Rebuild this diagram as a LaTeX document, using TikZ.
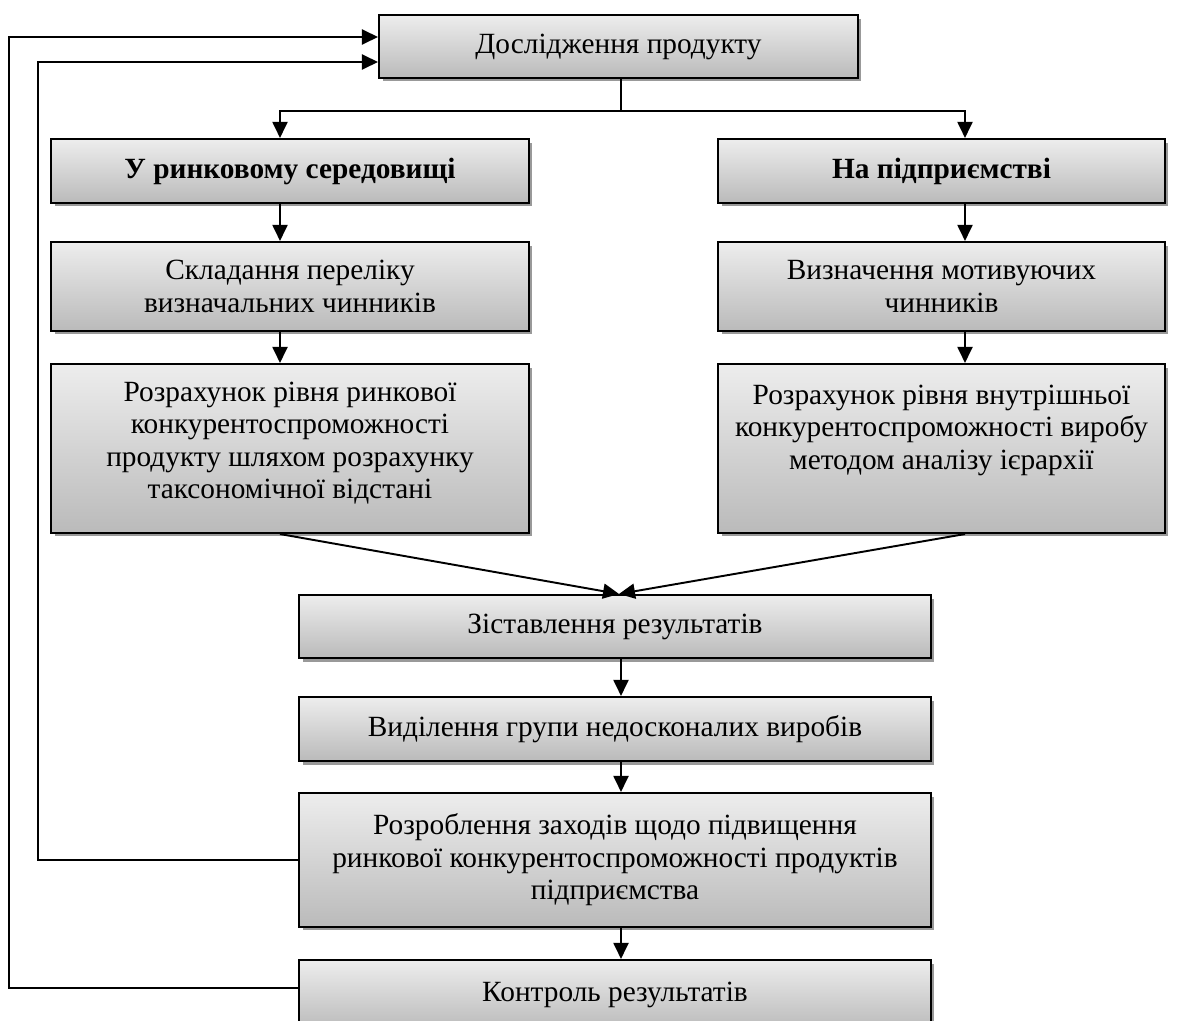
\documentclass[tikz,border=0pt]{standalone}
\usepackage{fontspec}
\setmainfont{Liberation Serif}
\usetikzlibrary{arrows.meta,shadows}

\begin{document}
\begin{tikzpicture}[x=0.02cm,y=-0.02cm,
    stage/.style={draw,line width=1.2pt,top color=black!7,bottom color=black!27,
      drop shadow={shadow xshift=0.07cm,shadow yshift=-0.07cm,fill=black!40,opacity=1},
      align=center,inner sep=2pt,font=\fontsize{16.7}{18.5}\selectfont},
    heading/.style={stage,font=\fontsize{16.7}{18.5}\selectfont\bfseries},
    lcol/.style={minimum width=9.56cm},
    rcol/.style={minimum width=8.94cm},
    mcol/.style={minimum width=12.64cm},
    link/.style={line width=1.1pt,-{Triangle[length=0.32cm,width=0.3cm]}},
    wire/.style={line width=1.1pt}]
  \useasboundingbox (0,0) rectangle (1187,1021);

  \node[stage,minimum width=9.58cm,minimum height=1.26cm] (prod) at (618.5,46.5) {Дослідження продукту};
  \node[heading,lcol,minimum height=1.28cm] (market) at (290,171) {У ринковому середовищі};
  \node[heading,rcol,minimum height=1.28cm] (firm) at (941.5,171) {На підприємстві};
  \node[stage,lcol,minimum height=1.78cm] (factors) at (290,286.5) {Складання переліку\\визначальних чинників};
  \node[stage,rcol,minimum height=1.78cm] (motives) at (941.5,286.5) {Визначення мотивуючих\\чинників};
  \node[stage,lcol,text depth=0.33cm,minimum height=3.38cm] (taxon) at (290,448.5)
    {Розрахунок рівня ринкової\\конкурентоспроможності\\продукту шляхом розрахунку\\таксономічної відстані};
  \node[stage,rcol,text depth=0.86cm,minimum height=3.38cm] (hier) at (941.5,448.5)
    {Розрахунок рівня внутрішньої\\конкурентоспроможності виробу\\методом аналізу ієрархії};
  \node[stage,mcol,minimum height=1.26cm] (compare) at (615,626.5) {Зіставлення результатів};
  \node[stage,mcol,minimum height=1.28cm] (select) at (615,729) {Виділення групи недосконалих виробів};
  \node[stage,mcol,minimum height=2.68cm] (measures) at (615,860)
    {Розроблення заходів щодо підвищення\\ринкової конкурентоспроможності продуктів\\підприємства};
  \node[stage,mcol,minimum height=1.4cm] (control) at (615,995) {Контроль результатів};

  \coordinate (split) at (621,111);
  \coordinate (outer) at (9,37);
  \coordinate (inner) at (38,62);

  \draw[wire] (prod.south -| split) -- (split);
  \draw[link] (split) -| ([xshift=-0.2cm]market.north);
  \draw[link] (split) -| ([xshift=0.47cm]firm.north);
  \draw[link] ([xshift=-0.2cm]market.south) -- ([xshift=-0.2cm]factors.north);
  \draw[link] ([xshift=-0.2cm]factors.south) -- ([xshift=-0.2cm]taxon.north);
  \draw[link] ([xshift=0.47cm]firm.south) -- ([xshift=0.47cm]motives.north);
  \draw[link] ([xshift=0.47cm]motives.south) -- ([xshift=0.47cm]hier.north);
  \draw[link] ([xshift=-0.2cm]taxon.south) -- ([xshift=0.08cm]compare.north);
  \draw[link] ([xshift=0.47cm]hier.south) -- ([xshift=0.08cm]compare.north);
  \draw[link] ([xshift=0.12cm]compare.south) -- ([xshift=0.12cm]select.north);
  \draw[link] ([xshift=0.12cm]select.south) -- ([xshift=0.12cm]measures.north);
  \draw[link] ([xshift=0.12cm]measures.south) -- ([xshift=0.12cm]control.north);
  \draw[link] ([yshift=0.14cm]control.west) -| (outer) -- (outer -| prod.west);
  \draw[link] (measures.west) -| (inner) -- (inner -| prod.west);
\end{tikzpicture}
\end{document}
